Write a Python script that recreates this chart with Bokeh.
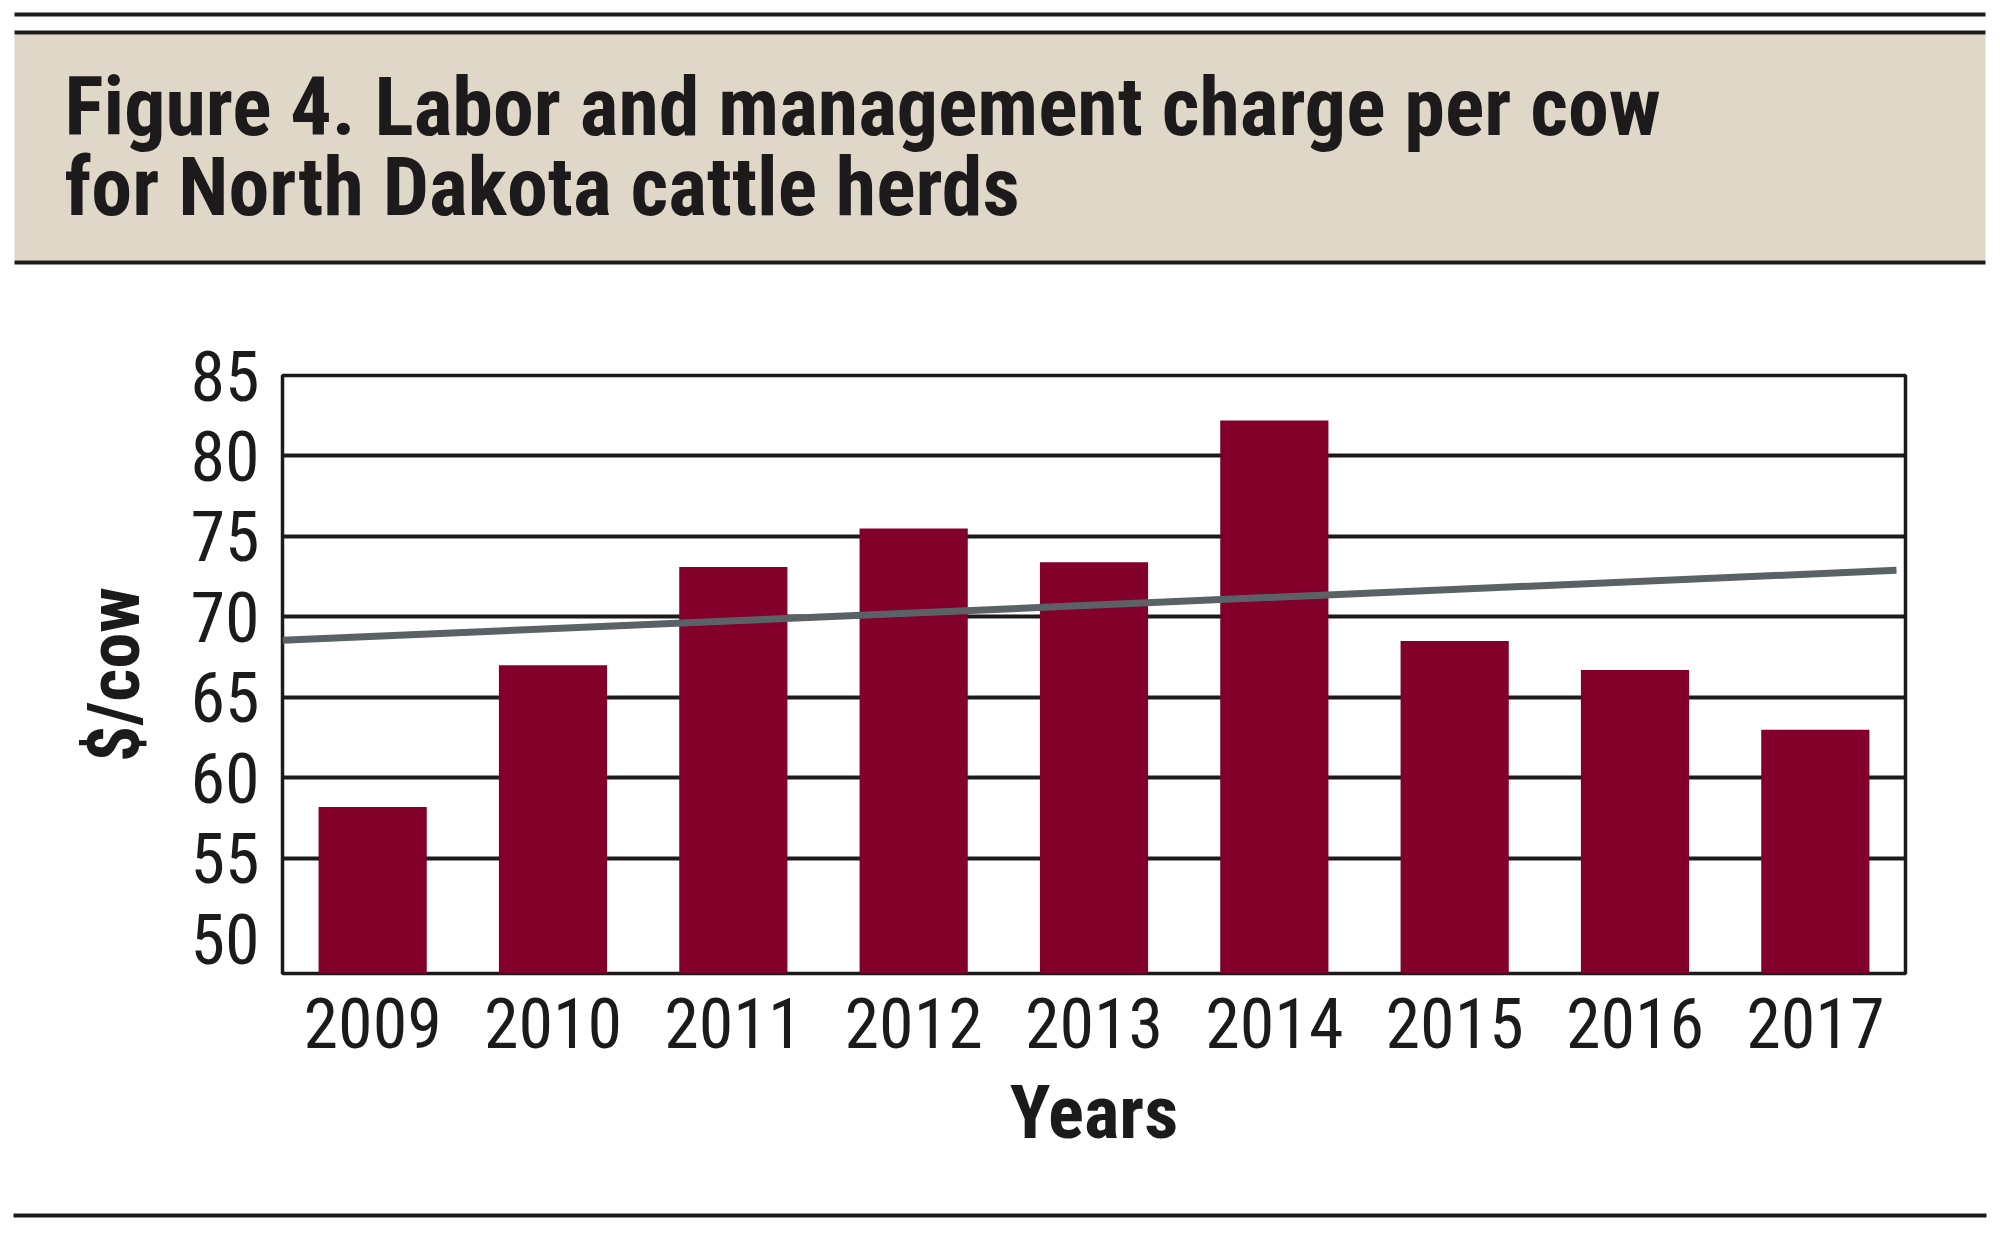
from bokeh.plotting import figure
from bokeh.layouts import column, row
from bokeh.models import Range1d, FixedTicker
from bokeh.core.properties import value
from bokeh.embed import file_html
from bokeh.resources import INLINE

# ---- data ----
years = ["2009", "2010", "2011", "2012", "2013", "2014", "2015", "2016", "2017"]
charge = [58.2, 67.0, 73.1, 75.5, 73.4, 82.2, 68.5, 66.7, 63.0]
trend_ends = [68.55, 72.9]          # trend line value at left and right edge of the axis
y_ticks = [50, 55, 60, 65, 70, 75, 80, 85]
title_lines = ["Figure 4. Labor and management charge per cow",
               "for North Dakota cattle herds"]

FONT = "Roboto Condensed"
INK = "#1c1a1b"
BAR = "#82002a"
TREND = "#5b6266"
BAND = "#dfd7c8"

W = 2000

def blank(h):
    f = figure(width=W, height=h, x_range=Range1d(0, W), y_range=Range1d(h, 0),
               output_backend="svg", toolbar_location=None, min_border=0)
    f.axis.visible = False
    f.grid.visible = False
    f.outline_line_color = None
    f.background_fill_color = "white"
    f.border_fill_color = "white"
    return f

# ---- header ----
HH = 300
hdr = blank(HH)
hdr.quad(left=[14], right=[1985], top=[34], bottom=[260], fill_color=BAND, line_color=None)
hdr.quad(left=[14, 14, 14], right=[1985, 1985, 1985], top=[12, 30, 260], bottom=[16, 34, 264],
         fill_color=INK, line_color=None)
hdr.text(x=[64, 64], y=[106, 186], text=title_lines, text_font=value(FONT),
         text_font_size="82px", text_font_style="bold", text_color=INK,
         text_align="left", text_baseline="alphabetic")

# ---- main chart ----
MH = 900
x = list(range(len(years)))
p = figure(width=W, height=MH, x_range=Range1d(-0.5, 8.5), y_range=Range1d(47.85, 85),
           output_backend="svg", toolbar_location=None,
           min_border_top=75, min_border_bottom=227, min_border_left=282, min_border_right=95)
p.background_fill_color = "white"
p.border_fill_color = "white"
p.outline_line_color = INK
p.outline_line_width = 3.5

p.vbar(x=x, top=charge, bottom=47.85, width=0.6, fill_color=BAR, line_color=None)
p.line(x=[-0.5, 8.45], y=trend_ends, line_color=TREND, line_width=7)

p.xaxis.ticker = FixedTicker(ticks=x)
p.xaxis.major_label_overrides = {i: y for i, y in enumerate(years)}
p.yaxis.ticker = FixedTicker(ticks=y_ticks)
p.xgrid.visible = False
p.ygrid.ticker = FixedTicker(ticks=y_ticks[1:])
p.ygrid.grid_line_color = INK
p.ygrid.grid_line_width = 4

for ax in (p.xaxis, p.yaxis):
    ax.axis_line_color = None
    ax.major_tick_line_color = None
    ax.minor_tick_line_color = None
    ax.major_label_text_font = FONT
    ax.major_label_text_font_size = "70px"
    ax.major_label_text_color = INK
    ax.axis_label_text_font = FONT
    ax.axis_label_text_font_style = "bold"
    ax.axis_label_text_color = INK

p.xaxis.axis_label = "Years"
p.xaxis.axis_label_text_font_size = "75px"
p.xaxis.major_label_standoff = 18
p.xaxis.axis_label_standoff = 17

p.yaxis.axis_label = "$/cow"
p.yaxis.axis_label_text_font_size = "72px"
p.yaxis.major_label_standoff = 17
p.yaxis.axis_label_standoff = 30

# ---- footer rule ----
FH = 53
ftr = blank(FH)
ftr.quad(left=[13], right=[1986], top=[13], bottom=[17], fill_color=INK, line_color=None)

layout = column(row(hdr), p, row(ftr), spacing=0)
open("out.html", "w").write(file_html(layout, INLINE))
